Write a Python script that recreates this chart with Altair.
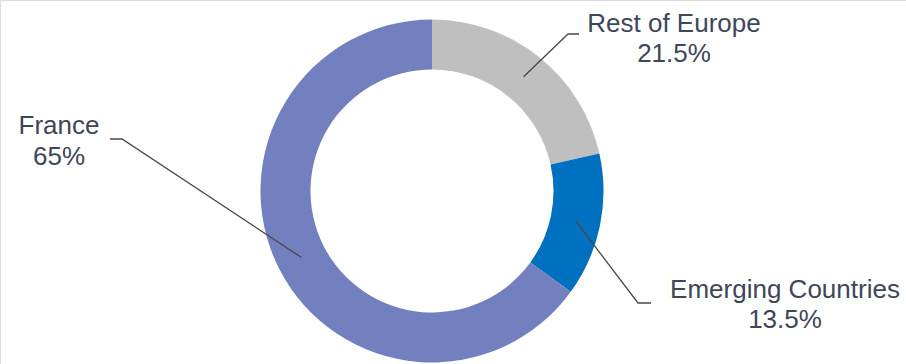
import altair as alt
import numpy as np
import pandas as pd

# ---- data ----
categories = ["Rest of Europe", "Emerging Countries", "France"]
shares = [21.5, 13.5, 65.0]
pct_labels = ["21.5%", "13.5%", "65%"]
colors = ["#BFBFBF", "#0070C0", "#7380BF"]

# ---- layout (pixels) ----
W, H = 906, 364
CX, CY = 432, 191
R_OUT, R_IN = 171.5, 121.5
R_MID = (R_OUT + R_IN) / 2
# elbow and end of each leader line, label anchor (x, baseline of line 1, baseline of line 2)
elbows = {"Rest of Europe": (568, 34), "Emerging Countries": (638, 303), "France": (122, 139)}
ends = {"Rest of Europe": (579, 34), "Emerging Countries": (651, 303), "France": (110, 139)}
label_pos = {"Rest of Europe": (674, 32, 62), "Emerging Countries": (785, 298, 328), "France": (59, 134, 165)}

df = pd.DataFrame({"cat": categories, "share": shares, "idx": range(len(categories))})

# leader lines start at the middle of each slice
total = sum(shares)
cum = np.cumsum(shares)
rows = []
for c, v, cu in zip(categories, shares, cum):
    ang = (cu - v / 2) / total * 2 * np.pi
    sx, sy = CX + R_MID * np.sin(ang), CY - R_MID * np.cos(ang)
    pts = [(sx, sy), elbows[c], ends[c]]
    for i, (px, py) in enumerate(pts):
        rows.append({"cat": c, "step": i, "px": px, "py": py})
lines_df = pd.DataFrame(rows)

trows = []
for c, p in zip(categories, pct_labels):
    lx, b1, b2 = label_pos[c]
    trows.append({"t": c, "px": lx, "py": b1})
    trows.append({"t": p, "px": lx, "py": b2})
text_df = pd.DataFrame(trows)

xs = alt.Scale(domain=[0, W], nice=False, zero=False)
ys = alt.Scale(domain=[0, H], nice=False, zero=False, reverse=True)

donut = alt.Chart(df).mark_arc(innerRadius=R_IN, outerRadius=R_OUT).encode(
    theta=alt.Theta("share:Q", stack=True),
    order=alt.Order("idx:Q"),
    color=alt.Color("cat:N", scale=alt.Scale(domain=categories, range=colors), legend=None),
    x=alt.value(CX),
    y=alt.value(CY),
)

leaders = alt.Chart(lines_df).mark_line(color="#4f4642", strokeWidth=1.3).encode(
    x=alt.X("px:Q", scale=xs, axis=None),
    y=alt.Y("py:Q", scale=ys, axis=None),
    detail="cat:N",
    order="step:Q",
)

labels = alt.Chart(text_df).mark_text(
    fontSize=26, font="Liberation Sans", align="center", baseline="alphabetic", color="#3e4659"
).encode(
    x=alt.X("px:Q", scale=xs, axis=None),
    y=alt.Y("py:Q", scale=ys, axis=None),
    text="t:N",
)

chart = alt.layer(donut, leaders, labels).resolve_scale(color="independent").properties(
    width=W, height=H, padding=0, autosize=alt.AutoSizeParams(type="none")
).configure_view(stroke=None).configure(background="white")

chart.save("out.html", embed_options={"renderer": "svg", "actions": False})
